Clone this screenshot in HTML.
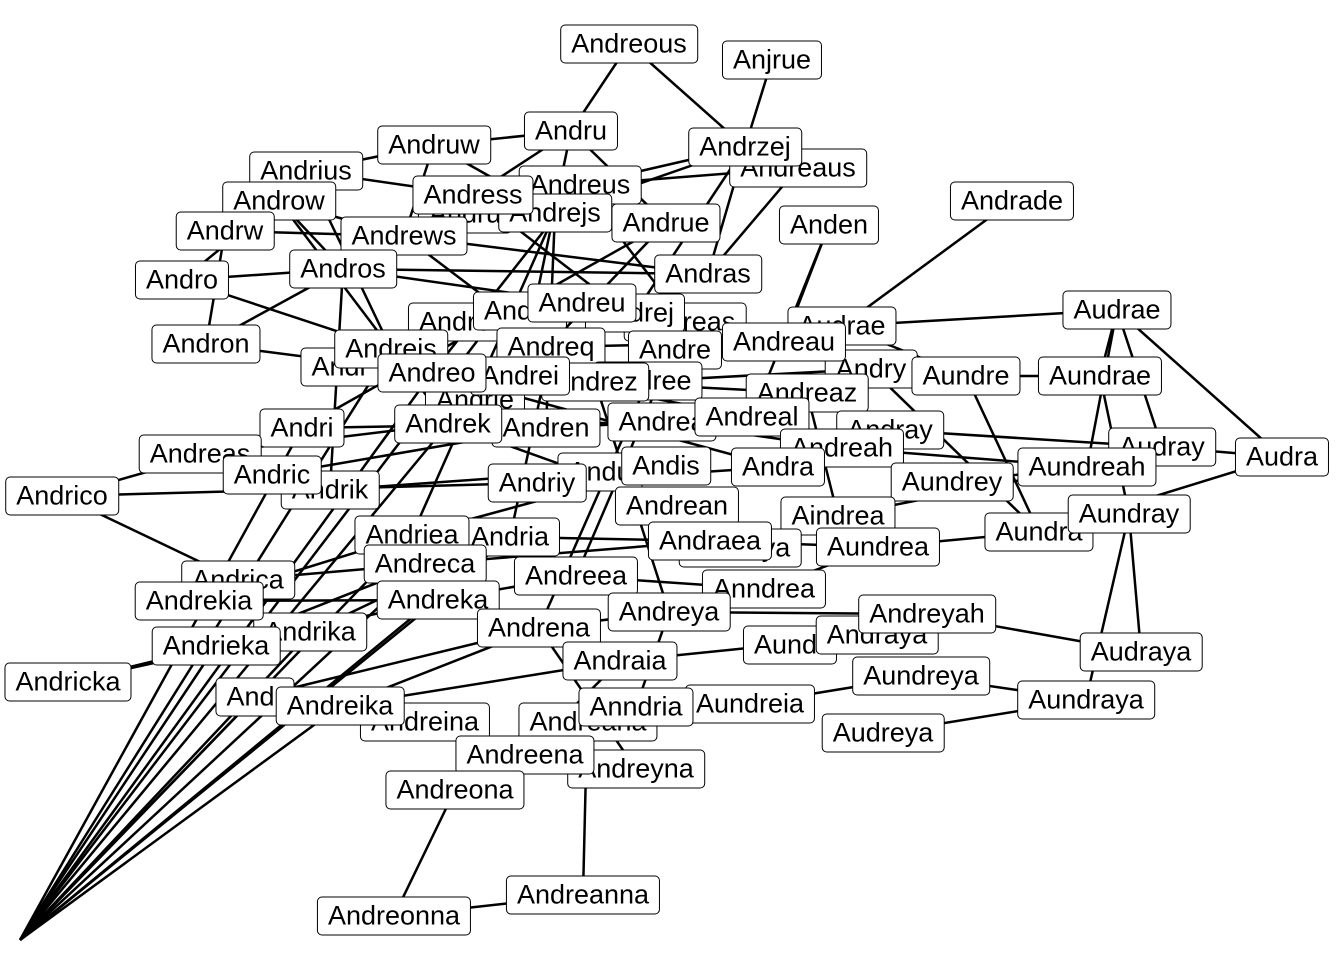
<!DOCTYPE html>
<html><head><meta charset="utf-8"><style>
html,body{margin:0;padding:0;background:#fff;}
#c{position:relative;width:1344px;height:960px;overflow:hidden;background:#fff;}
svg{position:absolute;left:0;top:0;}
.n{position:absolute;transform:translate(-50%,-50%);background:#fff;border:1.5px solid #000;border-radius:5px;padding:2px 10px 3px 10px;font-family:"Liberation Sans",sans-serif;font-size:27px;line-height:32px;white-space:nowrap;color:#000;}
</style></head><body><div id="c">
<svg width="1344" height="960" stroke="#000" stroke-width="2.5" fill="none">
<g>
<line x1="629" y1="44" x2="745" y2="147"/><line x1="629" y1="44" x2="571" y2="131"/>
<line x1="772" y1="60" x2="745" y2="147"/><line x1="745" y1="147" x2="708" y2="274"/>
<line x1="745" y1="147" x2="555" y2="213"/><line x1="745" y1="147" x2="580" y2="185"/>
<line x1="745" y1="147" x2="635" y2="313"/><line x1="798" y1="168" x2="580" y2="185"/>
<line x1="798" y1="168" x2="708" y2="274"/><line x1="571" y1="131" x2="434" y2="145"/>
<line x1="571" y1="131" x2="473" y2="195"/><line x1="571" y1="131" x2="666" y2="223"/>
<line x1="571" y1="131" x2="520" y2="376"/><line x1="434" y1="145" x2="306" y2="171"/>
<line x1="434" y1="145" x2="404" y2="236"/><line x1="434" y1="145" x2="555" y2="213"/>
<line x1="306" y1="171" x2="473" y2="195"/><line x1="306" y1="171" x2="391" y2="349"/>
<line x1="279" y1="201" x2="404" y2="236"/><line x1="279" y1="201" x2="343" y2="269"/>
<line x1="279" y1="201" x2="182" y2="280"/><line x1="279" y1="201" x2="448" y2="424"/>
<line x1="225" y1="231" x2="404" y2="236"/><line x1="225" y1="231" x2="206" y2="344"/>
<line x1="182" y1="280" x2="343" y2="269"/><line x1="182" y1="280" x2="391" y2="349"/>
<line x1="206" y1="344" x2="343" y2="269"/><line x1="206" y1="344" x2="432" y2="373"/>
<line x1="343" y1="269" x2="708" y2="274"/><line x1="343" y1="269" x2="582" y2="303"/>
<line x1="343" y1="269" x2="330" y2="490"/><line x1="404" y1="236" x2="708" y2="274"/>
<line x1="404" y1="236" x2="551" y2="347"/><line x1="473" y1="195" x2="666" y2="223"/>
<line x1="473" y1="195" x2="675" y2="350"/><line x1="555" y1="213" x2="546" y2="428"/>
<line x1="555" y1="213" x2="412" y2="535"/><line x1="580" y1="185" x2="432" y2="373"/>
<line x1="580" y1="185" x2="685" y2="322"/><line x1="666" y1="223" x2="520" y2="376"/>
<line x1="666" y1="223" x2="302" y2="428"/><line x1="829" y1="225" x2="784" y2="342"/>
<line x1="829" y1="225" x2="752" y2="417"/><line x1="1012" y1="201" x2="842" y2="326"/>
<line x1="842" y1="326" x2="1117" y2="310"/><line x1="842" y1="326" x2="966" y2="376"/>
<line x1="1117" y1="310" x2="1100" y2="376"/><line x1="1117" y1="310" x2="1282" y2="457"/>
<line x1="1117" y1="310" x2="1162" y2="447"/><line x1="1117" y1="310" x2="1087" y2="467"/>
<line x1="1100" y1="376" x2="966" y2="376"/><line x1="1100" y1="376" x2="1129" y2="514"/>
<line x1="1282" y1="457" x2="1162" y2="447"/><line x1="1282" y1="457" x2="1039" y2="532"/>
<line x1="1162" y1="447" x2="890" y2="430"/><line x1="1129" y1="514" x2="1141" y2="652"/>
<line x1="1129" y1="514" x2="1086" y2="700"/><line x1="1087" y1="467" x2="952" y2="482"/>
<line x1="1087" y1="467" x2="838" y2="516"/><line x1="1039" y1="532" x2="878" y2="547"/>
<line x1="1039" y1="532" x2="966" y2="376"/><line x1="1141" y1="652" x2="927" y2="614"/>
<line x1="1086" y1="700" x2="921" y2="676"/><line x1="1086" y1="700" x2="883" y2="733"/>
<line x1="921" y1="676" x2="750" y2="704"/><line x1="877" y1="635" x2="620" y2="661"/>
<line x1="927" y1="614" x2="669" y2="612"/><line x1="878" y1="547" x2="764" y2="589"/>
<line x1="871" y1="369" x2="648" y2="381"/><line x1="871" y1="369" x2="1039" y2="532"/>
<line x1="807" y1="393" x2="595" y2="382"/><line x1="807" y1="393" x2="838" y2="516"/>
<line x1="784" y1="342" x2="551" y2="347"/><line x1="784" y1="342" x2="966" y2="376"/>
<line x1="752" y1="417" x2="546" y2="428"/><line x1="842" y1="448" x2="1087" y2="467"/>
<line x1="842" y1="448" x2="662" y2="422"/><line x1="778" y1="467" x2="537" y2="483"/>
<line x1="666" y1="466" x2="412" y2="535"/><line x1="677" y1="506" x2="448" y2="424"/>
<line x1="710" y1="541" x2="425" y2="564"/><line x1="710" y1="541" x2="878" y2="547"/>
<line x1="764" y1="589" x2="576" y2="576"/><line x1="669" y1="612" x2="539" y2="628"/>
<line x1="669" y1="612" x2="636" y2="707"/><line x1="620" y1="661" x2="525" y2="755"/>
<line x1="636" y1="707" x2="750" y2="704"/><line x1="588" y1="722" x2="455" y2="790"/>
<line x1="586" y1="769" x2="583" y2="895"/><line x1="455" y1="790" x2="394" y2="916"/>
<line x1="583" y1="895" x2="394" y2="916"/><line x1="525" y1="755" x2="425" y2="722"/>
<line x1="539" y1="628" x2="340" y2="706"/><line x1="539" y1="628" x2="636" y2="769"/>
<line x1="438" y1="600" x2="576" y2="576"/><line x1="438" y1="600" x2="199" y2="601"/>
<line x1="425" y1="564" x2="238" y2="580"/><line x1="510" y1="537" x2="710" y2="541"/>
<line x1="510" y1="537" x2="310" y2="632"/><line x1="412" y1="535" x2="199" y2="601"/>
<line x1="62" y1="496" x2="302" y2="428"/><line x1="62" y1="496" x2="238" y2="580"/>
<line x1="62" y1="496" x2="537" y2="483"/><line x1="200" y1="454" x2="448" y2="424"/>
<line x1="272" y1="475" x2="546" y2="428"/><line x1="330" y1="490" x2="666" y2="466"/>
<line x1="302" y1="428" x2="662" y2="422"/><line x1="68" y1="682" x2="216" y2="646"/>
<line x1="68" y1="682" x2="438" y2="600"/><line x1="216" y1="646" x2="425" y2="564"/>
<line x1="255" y1="697" x2="539" y2="628"/><line x1="340" y1="706" x2="620" y2="661"/>
<line x1="432" y1="373" x2="778" y2="467"/><line x1="391" y1="349" x2="752" y2="417"/>
<line x1="551" y1="347" x2="510" y2="537"/><line x1="595" y1="382" x2="669" y2="612"/>
<line x1="648" y1="381" x2="539" y2="628"/><line x1="685" y1="322" x2="576" y2="576"/>
<line x1="20" y1="940" x2="391" y2="349"/><line x1="20" y1="940" x2="432" y2="373"/>
<line x1="20" y1="940" x2="412" y2="535"/><line x1="20" y1="940" x2="425" y2="564"/>
<line x1="20" y1="940" x2="438" y2="600"/><line x1="20" y1="940" x2="310" y2="632"/>
<line x1="20" y1="940" x2="216" y2="646"/><line x1="20" y1="940" x2="340" y2="706"/>
<line x1="20" y1="940" x2="302" y2="428"/><line x1="20" y1="940" x2="448" y2="424"/>
<line x1="20" y1="940" x2="500" y2="311"/><line x1="20" y1="940" x2="255" y2="697"/>
<line x1="20" y1="940" x2="510" y2="537"/>
</g></svg>
<div class="n" style="left:629px;top:44px">Andreous</div>
<div class="n" style="left:772px;top:60px">Anjrue</div>
<div class="n" style="left:306px;top:171px">Andrius</div>
<div class="n" style="left:434px;top:145px">Andruw</div>
<div class="n" style="left:571px;top:131px">Andru</div>
<div class="n" style="left:798px;top:168px">Andreaus</div>
<div class="n" style="left:745px;top:147px">Andrzej</div>
<div class="n" style="left:465px;top:214px">Andru</div>
<div class="n" style="left:580px;top:185px">Andreus</div>
<div class="n" style="left:555px;top:213px">Andrejs</div>
<div class="n" style="left:473px;top:195px">Andress</div>
<div class="n" style="left:279px;top:201px">Androw</div>
<div class="n" style="left:1012px;top:201px">Andrade</div>
<div class="n" style="left:666px;top:223px">Andrue</div>
<div class="n" style="left:829px;top:225px">Anden</div>
<div class="n" style="left:225px;top:231px">Andrw</div>
<div class="n" style="left:404px;top:236px">Andrews</div>
<div class="n" style="left:343px;top:269px">Andros</div>
<div class="n" style="left:708px;top:274px">Andras</div>
<div class="n" style="left:182px;top:280px">Andro</div>
<div class="n" style="left:1117px;top:310px">Audrae</div>
<div class="n" style="left:842px;top:326px">Audrae</div>
<div class="n" style="left:685px;top:322px">Andreas</div>
<div class="n" style="left:635px;top:313px">Andrej</div>
<div class="n" style="left:455px;top:322px">Andre</div>
<div class="n" style="left:520px;top:311px">Andre</div>
<div class="n" style="left:582px;top:303px">Andreu</div>
<div class="n" style="left:206px;top:344px">Andron</div>
<div class="n" style="left:340px;top:367px">Andr</div>
<div class="n" style="left:391px;top:349px">Andreis</div>
<div class="n" style="left:675px;top:350px">Andre</div>
<div class="n" style="left:551px;top:347px">Andreq</div>
<div class="n" style="left:871px;top:369px">Andry</div>
<div class="n" style="left:784px;top:342px">Andreau</div>
<div class="n" style="left:966px;top:376px">Aundre</div>
<div class="n" style="left:1100px;top:376px">Aundrae</div>
<div class="n" style="left:648px;top:381px">Andree</div>
<div class="n" style="left:595px;top:382px">Andrez</div>
<div class="n" style="left:475px;top:400px">Andrie</div>
<div class="n" style="left:520px;top:376px">Andrei</div>
<div class="n" style="left:432px;top:373px">Andreo</div>
<div class="n" style="left:807px;top:393px">Andreaz</div>
<div class="n" style="left:302px;top:428px">Andri</div>
<div class="n" style="left:890px;top:430px">Andray</div>
<div class="n" style="left:662px;top:422px">Andrea</div>
<div class="n" style="left:752px;top:417px">Andreal</div>
<div class="n" style="left:546px;top:428px">Andren</div>
<div class="n" style="left:448px;top:424px">Andrek</div>
<div class="n" style="left:1162px;top:447px">Audray</div>
<div class="n" style="left:842px;top:448px">Andreah</div>
<div class="n" style="left:1282px;top:457px">Audra</div>
<div class="n" style="left:200px;top:454px">Andreas</div>
<div class="n" style="left:1087px;top:467px">Aundreah</div>
<div class="n" style="left:600px;top:472px">Andu</div>
<div class="n" style="left:778px;top:467px">Andra</div>
<div class="n" style="left:666px;top:466px">Andis</div>
<div class="n" style="left:330px;top:490px">Andrik</div>
<div class="n" style="left:272px;top:475px">Andric</div>
<div class="n" style="left:537px;top:483px">Andriy</div>
<div class="n" style="left:952px;top:482px">Aundrey</div>
<div class="n" style="left:62px;top:496px">Andrico</div>
<div class="n" style="left:1039px;top:532px">Aundra</div>
<div class="n" style="left:1129px;top:514px">Aundray</div>
<div class="n" style="left:838px;top:516px">Aindrea</div>
<div class="n" style="left:677px;top:506px">Andrean</div>
<div class="n" style="left:510px;top:537px">Andria</div>
<div class="n" style="left:412px;top:535px">Andriea</div>
<div class="n" style="left:740px;top:548px">Andreya</div>
<div class="n" style="left:878px;top:547px">Aundrea</div>
<div class="n" style="left:710px;top:541px">Andraea</div>
<div class="n" style="left:238px;top:580px">Andrica</div>
<div class="n" style="left:425px;top:564px">Andreca</div>
<div class="n" style="left:576px;top:576px">Andreea</div>
<div class="n" style="left:764px;top:589px">Anndrea</div>
<div class="n" style="left:310px;top:632px">Andrika</div>
<div class="n" style="left:199px;top:601px">Andrekia</div>
<div class="n" style="left:438px;top:600px">Andreka</div>
<div class="n" style="left:539px;top:628px">Andrena</div>
<div class="n" style="left:790px;top:645px">Aundr</div>
<div class="n" style="left:877px;top:635px">Andraya</div>
<div class="n" style="left:927px;top:614px">Andreyah</div>
<div class="n" style="left:669px;top:612px">Andreya</div>
<div class="n" style="left:216px;top:646px">Andrieka</div>
<div class="n" style="left:1141px;top:652px">Audraya</div>
<div class="n" style="left:620px;top:661px">Andraia</div>
<div class="n" style="left:68px;top:682px">Andricka</div>
<div class="n" style="left:921px;top:676px">Aundreya</div>
<div class="n" style="left:255px;top:697px">Andr</div>
<div class="n" style="left:1086px;top:700px">Aundraya</div>
<div class="n" style="left:750px;top:704px">Aundreia</div>
<div class="n" style="left:425px;top:722px">Andreina</div>
<div class="n" style="left:588px;top:722px">Andreana</div>
<div class="n" style="left:340px;top:706px">Andreika</div>
<div class="n" style="left:636px;top:707px">Anndria</div>
<div class="n" style="left:883px;top:733px">Audreya</div>
<div class="n" style="left:636px;top:769px">Andreyna</div>
<div class="n" style="left:525px;top:755px">Andreena</div>
<div class="n" style="left:455px;top:790px">Andreona</div>
<div class="n" style="left:583px;top:895px">Andreanna</div>
<div class="n" style="left:394px;top:916px">Andreonna</div>
</div></body></html>
